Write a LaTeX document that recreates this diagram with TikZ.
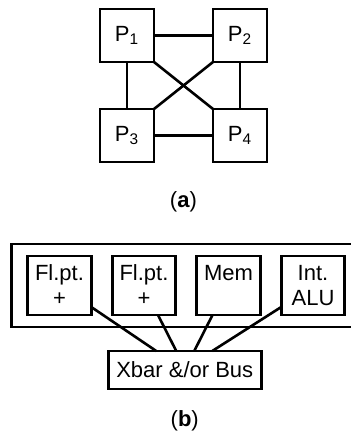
\documentclass[tikz,border=0pt]{standalone}
\usepackage{fontspec}
\setmainfont{Liberation Sans}
\usetikzlibrary{calc,fit,positioning}
\tikzset{
    arch diagram/.style = {line width=1.3pt, font=\fontsize{11}{12.5}\selectfont},
    line/.style         = {line width=1.3pt},
    pbox/.style         = {draw, line width=1.3pt, inner sep=0pt, outer sep=0pt,
                           minimum width=27pt, minimum height=26.5pt},
    unit/.style         = {draw, line width=1.3pt, inner sep=0pt, outer sep=0pt,
                           align=center,
                           minimum width=31.75pt, minimum height=29.5pt},
    busbox/.style       = {draw, line width=1.3pt, inner sep=0pt, outer sep=0pt,
                           minimum width=76.5pt, minimum height=19pt},
    caption/.style      = {inner sep=0pt},
    enclosure/.style    = {draw, line width=1.3pt, inner xsep=8pt, inner ysep=6pt}
}
\newcommand{\sublabel}[1]{(\textbf{#1})}

\begin{document}
\begin{tikzpicture}[arch diagram]
\clip (0,0) rectangle (175.5pt,-217.5pt);

% (a): four processors, fully connected
\node[pbox] (P1) at (63.5pt,-17.75pt) {P\textsubscript{1}};
\node[pbox, right=29.5pt of P1] (P2) {P\textsubscript{2}};
\node[pbox, below=23.5pt of P1] (P3) {P\textsubscript{3}};
\node[pbox, below=23.5pt of P2] (P4) {P\textsubscript{4}};
\draw[line] (P1) -- (P2);
\draw[line] (P3) -- (P4);
\draw[line] (P1) -- (P3);
\draw[line] (P2) -- (P4);
\draw[line] (P1.south east) -- (P4.north west);
\draw[line] (P2.south west) -- (P3.north east);
\node[caption] (capa) at ($(P3.south)!0.5!(P4.south)+(0,-20pt)$) {\sublabel{a}};

% (b): functional units sharing a crossbar or bus
\node[unit] (fp1) at (29.75pt,-142.75pt) {Fl.pt.\\+};
\node[unit, right=10.5pt of fp1] (fp2) {Fl.pt.\\+};
\node[unit, right=10.5pt of fp2] (mem) {Mem\\\mbox{}};
\node[unit, right=10.5pt of mem] (alu) {Int.\\ALU};
\node[enclosure, fit=(fp1)(fp2)(mem)(alu)] (cpu) {};

\node[busbox, anchor=north] (bus)
    at ($(fp2.south)!0.5!(mem.south)+(-0.75pt,-18pt)$) {Xbar \&/or Bus};
\draw[line] ($(fp1.south east)+(0,4pt)$) -- ($(bus.north)+(-14.25pt,0)$);
\draw[line] ($(fp2.south)+(7pt,0)$) -- ($(bus.north)+(-4.25pt,0)$);
\draw[line] ($(mem.south)+(-8pt,0)$) -- ($(bus.north)+(4.75pt,0)$);
\draw[line] ($(alu.south west)+(0,4pt)$) -- ($(bus.north)+(13.75pt,0)$);
\node[caption] (capb) at ($(bus.south)+(0,-16pt)$) {\sublabel{b}};

\end{tikzpicture}
\end{document}
